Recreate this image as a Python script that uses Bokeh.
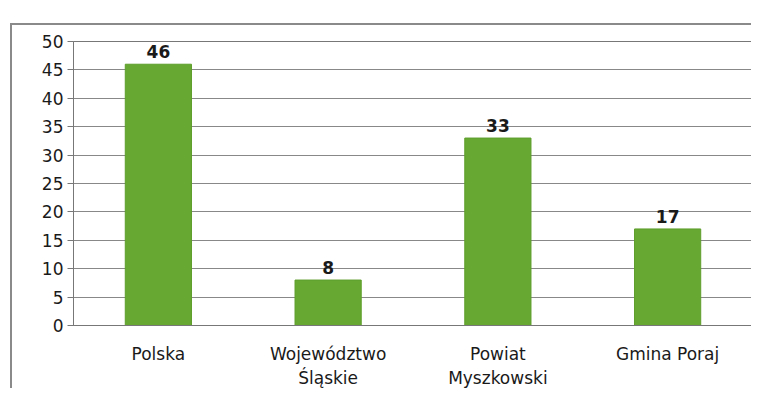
from bokeh.plotting import figure
from bokeh.models import ColumnDataSource, FixedTicker, Range1d
from bokeh.core.properties import value
from bokeh.embed import file_html
from bokeh.resources import INLINE

categories = ["Polska", "Województwo\nŚląskie", "Powiat\nMyszkowski", "Gmina Poraj"]
values = [46, 8, 33, 17]
y_ticks = [0, 5, 10, 15, 20, 25, 30, 35, 40, 45, 50]

src = ColumnDataSource(dict(cat=categories, val=values, lab=[str(v) for v in values]))

p = figure(x_range=categories, y_range=Range1d(0, 50), width=741, height=365,
           output_backend="svg", toolbar_location=None,
           min_border_left=61, min_border_right=1, min_border_top=16, min_border_bottom=58)
p.margin = (23, 0, 0, 10)
p.styles = {"border-left": "2px solid #8a8a8a", "border-top": "2px solid #8a8a8a"}
p.background_fill_color = "white"
p.border_fill_color = "white"
p.outline_line_color = "#777777"

p.vbar(x="cat", top="val", width=0.39, source=src, fill_color="#67a833", line_color="#5e9e2c")
p.text(x="cat", y="val", text="lab", source=src, text_align="center", text_baseline="bottom",
       y_offset=-6, text_font=value("DejaVu Sans"), text_font_style="bold",
       text_font_size="17px", text_color="#1a1a1a")

p.yaxis.ticker = FixedTicker(ticks=y_ticks)
p.yaxis.major_label_text_font = "DejaVu Sans"
p.yaxis.major_label_text_font_size = "17px"
p.yaxis.major_label_text_color = "#1a1a1a"
p.yaxis.axis_line_color = "#777777"
p.yaxis.major_tick_line_color = "#777777"
p.yaxis.major_tick_out = 6
p.yaxis.major_tick_in = 0
p.yaxis.minor_tick_line_color = None
p.yaxis.major_label_standoff = 4

p.xaxis.major_label_text_font = "DejaVu Sans"
p.xaxis.major_label_text_font_size = "17px"
p.xaxis.major_label_text_color = "#1a1a1a"
p.xaxis.axis_line_color = "#777777"
p.xaxis.major_tick_line_color = None
p.xaxis.major_label_standoff = 12

p.xgrid.grid_line_color = None
p.ygrid.grid_line_color = "#888888"
p.ygrid.grid_line_width = 1

open("out.html", "w").write(file_html(p, INLINE))
